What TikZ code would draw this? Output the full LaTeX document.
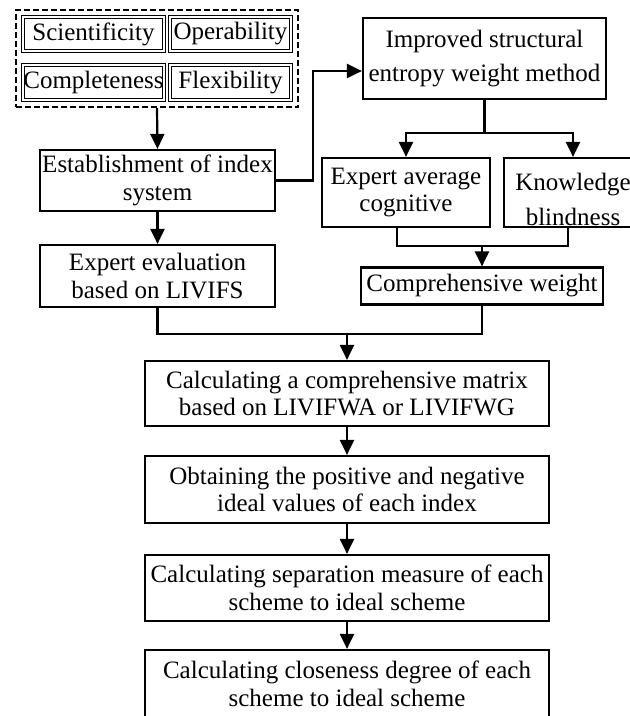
\documentclass[tikz,border=0pt]{standalone}
\usepackage{fontspec}
\setmainfont{Liberation Serif}
\usetikzlibrary{arrows.meta,fit}
\begin{document}
\begin{tikzpicture}[x=1pt,y=-1pt,line join=miter,>={Triangle[length=15pt,width=14pt]},
	font=\fontsize{25}{27.5}\selectfont,
	every node/.style={inner sep=0pt,align=center},
	box/.style={draw,line width=2.2pt},
	dbox/.style={draw,double,line width=1.4pt,double distance=1.4pt},
	grpbox/.style={draw,dashed,dash pattern=on 6pt off 3pt,line width=2pt},
	conn/.style={line width=2.2pt}]
				\useasboundingbox (0,0) rectangle (630,716);
				\clip (0,0) rectangle (630,716);
				% principles of the index system
				\node (sci) [dbox,minimum width=141pt,minimum height=34pt] at (93.5,34) {Scientificity};
				\node (ope) [dbox,minimum width=121pt,minimum height=34pt] at (230.5,34) {Operability};
				\node (com) [dbox,minimum width=141pt,minimum height=35pt] at (93.5,82.5) {Completeness};
				\node (fle) [dbox,minimum width=121pt,minimum height=35pt] at (230.5,82.5) {Flexibility};
				\node (grp) [grpbox,fit=(sci)(ope)(com)(fle),inner sep=6.5pt] {};
				% left column
				\node (est) [box,minimum width=235pt,minimum height=61pt] at (157.5,180.5) {Establishment of index\\system};
				\node (eva) [box,minimum width=235pt,minimum height=62pt] at (157.5,276) {Expert evaluation\\based on LIVIFS};
				% weights
				\node (isw) [box,minimum width=243pt,minimum height=81pt] at (484.5,58.5) {Improved structural\\[7pt]entropy weight method};
				\node (eac) [box,minimum width=168pt,minimum height=69pt] at (406,192.5) {Expert average\\cognitive};
				\node (kbl) [box,minimum width=138pt,minimum height=69pt] at (573,192.5) {};
				\node (kbl-t) at ([yshift=-7pt]kbl.center) {Knowledge\\[7pt]blindness};
				\node (cwt) [box,minimum width=242pt,minimum height=37pt] at (482,286) {Comprehensive weight};
				% main steps
				\node (mat) [box,minimum width=404pt,minimum height=65pt] at (347,393.5) {Calculating a comprehensive matrix\\based on LIVIFWA or LIVIFWG};
				\node (ide) [box,minimum width=404pt,minimum height=67pt] at (347,489.5) {Obtaining the positive and negative\\ideal values of each index};
				\node (sep) [box,minimum width=404pt,minimum height=66pt] at (347,588) {Calculating separation measure of each\\scheme to ideal scheme};
				\node (clo) [box,minimum width=404pt,minimum height=68pt] at (347,684) {Calculating closeness degree of each\\scheme to ideal scheme};
				
				\draw[conn,->] (grp.south) -- (est.north);
				\draw[conn,->] (est.east) -- ++(37,0) |- ([yshift=-12.5pt]isw.west);
				\draw[conn] (isw.south) -- ++(0,33) coordinate (br);
				\draw[conn,->] (br) -| (eac.north);
				\draw[conn,->] (br) -| (kbl.north);
				\draw[conn] ([xshift=-9pt]eac.south) -- ++(0,18) coordinate (jw) -| ([xshift=-5pt]kbl.south);
				\draw[conn,->] (jw -| cwt.north) -- (cwt.north);
				\draw[conn] (eva.south) -- ++(0,26) coordinate (jb) -| (cwt.south);
				\draw[conn,->] (jb -| mat.north) -- (mat.north);
				\draw[conn,->] (est.south) -- (eva.north);
				\foreach \a/\b in {mat/ide,ide/sep,sep/clo}\draw[conn,->] (\a.south) -- (\b.north);
			\end{tikzpicture}
\end{document}
